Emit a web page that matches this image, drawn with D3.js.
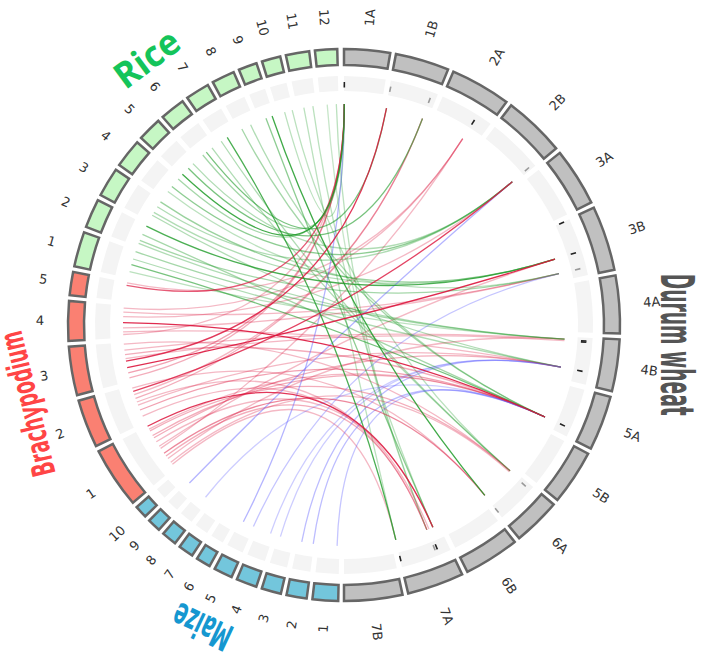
<!DOCTYPE html>
<html>
<head>
<meta charset="utf-8">
<script src="https://cdnjs.cloudflare.com/ajax/libs/d3/7.8.5/d3.min.js"></script>
<style>
  html, body { margin: 0; padding: 0; background: #fff; }
  svg { display: block; }
  .chr-label { font-family: "DejaVu Sans", sans-serif; font-size: 13px; fill: #333; }
</style>
</head>
<body>
<div id="chart"></div>
<script>
// chromosome names and sizes (Mb)
const wheatChr = ["1A", "1B", "2A", "2B", "3A", "3B", "4A", "4B", "5A", "5B", "6A", "6B", "7A", "7B"];
const wheatLen = [598, 700, 788, 803, 757, 843, 752, 676, 713, 717, 622, 722, 737, 759];
const maizeChr = ["1", "2", "3", "4", "5", "6", "7", "8", "9", "10"];
const maizeLen = [308, 244, 235, 247, 224, 174, 182, 181, 159, 150];
const brachyChr = ["1", "2", "3", "4", "5"];
const brachyLen = [75.1, 59.1, 59.6, 48.6, 28.6];
const riceChr = ["1", "2", "3", "4", "5", "6", "7", "8", "9", "10", "11", "12"];
const riceLen = [43.3, 35.9, 36.4, 35.5, 29.9, 31.2, 29.7, 28.4, 23.0, 23.2, 29.0, 27.5];

// links: [chr, pos (Mb), wheat chr, wheat pos (Mb), weight]
const riceLinks = [
    ["5", 2, "1A", 5, 0.85], ["4", 35, "1A", 5, 0.4], ["6", 8, "1A", 5, 0.4],
    ["12", 24, "7A", 206, 0.3], ["11", 24, "7A", 101, 0.3], ["10", 22, "6A", 45, 0.3],
    ["9", 20, "6A", 610, 0.85], ["8", 5, "5A", 589, 0.4], ["7", 16, "7A", 730, 0.8],
    ["6", 26, "6A", 45, 0.35], ["3", 34, "3B", 486, 0.45], ["3", 25, "2B", 764, 0.35],
    ["2", 34, "3B", 486, 0.8], ["1", 42, "4B", 44, 0.4], ["1", 30, "4B", 497, 0.35],
    ["1", 21, "5A", 589, 0.6], ["4", 20, "2B", 764, 0.5], ["5", 15, "1B", 617, 0.6],
    ["2", 10, "3B", 728, 0.4], ["6", 15, "1B", 15, 0.6], ["9", 10, "7A", 101, 0.5],
    ["7", 5, "6A", 45, 0.35], ["10", 10, "1A", 5, 0.3], ["8", 20, "5A", 589, 0.35],
    ["3", 10, "4B", 497, 0.35], ["2", 20, "5A", 589, 0.4], ["11", 10, "7A", 730, 0.3],
    ["12", 10, "7A", 206, 0.25], ["3", 15, "3B", 486, 0.35], ["4", 10, "3B", 728, 0.3],
    ["2", 5, "4B", 44, 0.35], ["1", 10, "4B", 44, 0.3], ["5", 25, "2B", 764, 0.35]
];
const brachyLinks = [
    ["5", 24, "1A", 5, 0.7], ["5", 28, "2A", 567, 0.3], ["4", 39, "3B", 728, 0.3],
    ["4", 32, "2B", 764, 0.3], ["4", 23, "5A", 589, 0.9], ["4", 9, "4B", 497, 0.3],
    ["3", 57, "6A", 45, 0.3], ["3", 41, "5A", 589, 0.35], ["3", 31, "1B", 15, 0.85],
    ["3", 21, "3B", 486, 0.9], ["3", 13, "1A", 5, 0.4], ["2", 50, "2B", 764, 0.8],
    ["2", 39, "1B", 617, 0.35], ["2", 28, "4B", 497, 0.3], ["1", 75, "7A", 101, 0.85],
    ["1", 67, "6A", 45, 0.35], ["1", 59, "5A", 589, 0.35], ["1", 48, "7A", 101, 0.3],
    ["1", 36, "2A", 567, 0.3], ["1", 27, "6A", 610, 0.5], ["1", 17, "4B", 44, 0.3],
    ["1", 6, "7A", 730, 0.3], ["4", 15, "3B", 728, 0.3], ["3", 5, "1A", 5, 0.35],
    ["2", 10, "7A", 206, 0.3], ["2", 20, "5A", 589, 0.4], ["3", 48, "4B", 44, 0.3],
    ["1", 40, "3B", 486, 0.3], ["2", 45, "1B", 617, 0.3], ["4", 45, "2A", 567, 0.3],
    ["1", 70, "5A", 589, 0.3], ["1", 55, "4B", 497, 0.35], ["2", 55, "6A", 610, 0.3],
    ["2", 33, "7A", 170, 0.3], ["1", 10, "6A", 63, 0.3], ["1", 22, "7A", 205, 0.35],
    ["3", 35, "4B", 68, 0.3], ["4", 5, "1A", 5, 0.3]
];
const maizeLinks = [
    ["9", 130, "2B", 764, 0.45], ["5", 175, "1A", 5, 0.45], ["5", 9, "3B", 728, 0.35],
    ["2", 186, "4B", 497, 0.4], ["2", 13, "5A", 589, 0.4], ["1", 34, "5A", 589, 0.35],
    ["4", 50, "4B", 497, 0.3], ["8", 60, "5A", 589, 0.3], ["3", 200, "4B", 497, 0.3]
];

// wheat track marks: [chr, pos (Mb), strong]
const wheatMarks = [
    ["1A", 5, 1], ["1B", 15, 0], ["1B", 617, 0], ["2A", 567, 1], ["2B", 764, 0],
    ["3B", 5, 1], ["3B", 486, 1], ["3B", 728, 0], ["4B", 50, 1], ["4B", 68, 1],
    ["4B", 497, 1], ["5A", 589, 1], ["6A", 63, 0], ["6A", 615, 0], ["7A", 170, 1],
    ["7A", 205, 0], ["7A", 730, 1]
];

const width = 706, height = 662;
const cx = 344, cy = 325;
const gapDeg = 1.2;
const rRingIn = 260, rRingOut = 276;
const rTrackIn = 234, rTrackOut = 249;
const rLink = 221;
const rLabel = 300;
const rad = d => d * Math.PI / 180;
const pt = (a, r) => [r * Math.sin(rad(a)), -r * Math.cos(rad(a))];

// genome layout around the circle (degrees, clockwise from top)
const condensed = "'DejaVu Sans', sans-serif";
const genomes = [
    { key: "wheat", name: "Durum wheat", chrs: wheatChr, lens: wheatLen, from: 0, to: 180,
      fill: "#c0c0c0", color: "#555555", labelAt: 93.4, rot: 90, r: 334, size: 46, len: 142, weight: 700, font: condensed },
    { key: "maize", name: "Maize", chrs: maizeChr, lens: maizeLen, from: 181.2, to: 228.7,
      fill: "#73c6dc", color: "#1597d0", labelAt: 205.2, rot: 205.2, r: 333, size: 37, len: 62, weight: 700, font: condensed },
    { key: "brachy", name: "Brachypodium", chrs: brachyChr, lens: brachyLen, from: 229.9, to: 281.1,
      fill: "#fa8072", color: "#ff4545", labelAt: 256, rot: 256.5, r: 326, size: 32, len: 148, weight: 700, font: condensed },
    { key: "rice", name: "Rice", chrs: riceChr, lens: riceLen, from: 282.3, to: 358.6,
      fill: "#c6f7c4", color: "#14c45a", labelAt: 323.5, rot: 323.5, r: 333, size: 36, len: 72, weight: 700,
      font: "'Open Sans', sans-serif" }
];

const chroms = [];
const chromMap = {};
genomes.forEach(g => {
    const total = d3.sum(g.lens);
    const k = (g.to - g.from - gapDeg * (g.chrs.length - 1)) / total;
    let a = g.from;
    g.chrs.forEach((c, i) => {
        const span = g.lens[i] * k;
        const chr = { genome: g, name: c, start: a, end: a + span,
                      scale: d3.scaleLinear().domain([0, g.lens[i]]).range([a, a + span]) };
        chroms.push(chr);
        chromMap[g.key + ":" + c] = chr;
        a += span + gapDeg;
    });
});

const svg = d3.select("#chart").append("svg")
    .attr("width", width)
    .attr("height", height);

const g = svg.append("g").attr("transform", `translate(${cx},${cy})`);

// outer chromosome ring
const ringArc = d3.arc().innerRadius(rRingIn).outerRadius(rRingOut);
g.append("g").selectAll("path").data(chroms).enter().append("path")
    .attr("d", d => ringArc({ startAngle: rad(d.start), endAngle: rad(d.end) }))
    .attr("fill", d => d.genome.fill)
    .attr("stroke", "#666")
    .attr("stroke-width", 2.5);

// inner light track
const trackArc = d3.arc().innerRadius(rTrackIn).outerRadius(rTrackOut);
g.append("g").selectAll("path").data(chroms).enter().append("path")
    .attr("d", d => trackArc({ startAngle: rad(d.start), endAngle: rad(d.end) }))
    .attr("fill", "#f4f4f4");

// marks in the wheat track
g.append("g").selectAll("line").data(wheatMarks).enter().append("line")
    .each(function(d) {
        const a = chromMap["wheat:" + d[0]].scale(d[1]);
        const p0 = pt(a, 237.5), p1 = pt(a, 243);
        d3.select(this).attr("x1", p0[0]).attr("y1", p0[1]).attr("x2", p1[0]).attr("y2", p1[1]);
    })
    .attr("stroke", d => d[2] ? "#222" : "#999")
    .attr("stroke-width", 1.6);

// chromosome labels
g.append("g").selectAll("text").data(chroms).enter().append("text")
    .attr("class", "chr-label")
    .attr("transform", d => {
        const a = (d.start + d.end) / 2;
        const p = pt(a, rLabel);
        const rot = a < 180 ? a - 90 : a + 90;
        return `translate(${p[0]},${p[1]}) rotate(${rot})`;
    })
    .attr("text-anchor", d => (d.start + d.end) / 2 < 180 ? "start" : "end")
    .attr("dominant-baseline", "central")
    .text(d => d.name);

// links, light ones first
const linkColor = { rice: "#1e9b28", brachy: "#dc143c", maize: "#5a5aff" };
const links = [];
riceLinks.forEach(d => links.push({ key: "rice", l: d }));
brachyLinks.forEach(d => links.push({ key: "brachy", l: d }));
maizeLinks.forEach(d => links.push({ key: "maize", l: d }));
links.sort((a, b) => a.l[4] - b.l[4]);

g.append("g").selectAll("path").data(links).enter().append("path")
    .attr("d", d => {
        const a0 = chromMap[d.key + ":" + d.l[0]].scale(d.l[1]);
        const a1 = chromMap["wheat:" + d.l[2]].scale(d.l[3]);
        const p0 = pt(a0, rLink), p1 = pt(a1, rLink);
        return `M${p0[0]},${p0[1]}Q0,0 ${p1[0]},${p1[1]}`;
    })
    .attr("fill", "none")
    .attr("stroke", d => linkColor[d.key])
    .attr("stroke-opacity", d => d.l[4])
    .attr("stroke-width", 1.3);

// genome names, squeezed horizontally to the condensed look
g.append("g").selectAll("text").data(genomes).enter().append("text")
    .attr("text-anchor", "middle")
    .attr("dominant-baseline", "central")
    .style("font-family", d => d.font)
    .attr("font-size", d => d.size)
    .attr("font-weight", d => d.weight)
    .attr("fill", d => d.color)
    .text(d => d.name)
    .attr("transform", function(d) {
        const p = pt(d.labelAt, d.r);
        const sx = d.len / this.getComputedTextLength();
        return `translate(${p[0]},${p[1]}) rotate(${d.rot}) scale(${sx},1)`;
    });
</script>
</body>
</html>
